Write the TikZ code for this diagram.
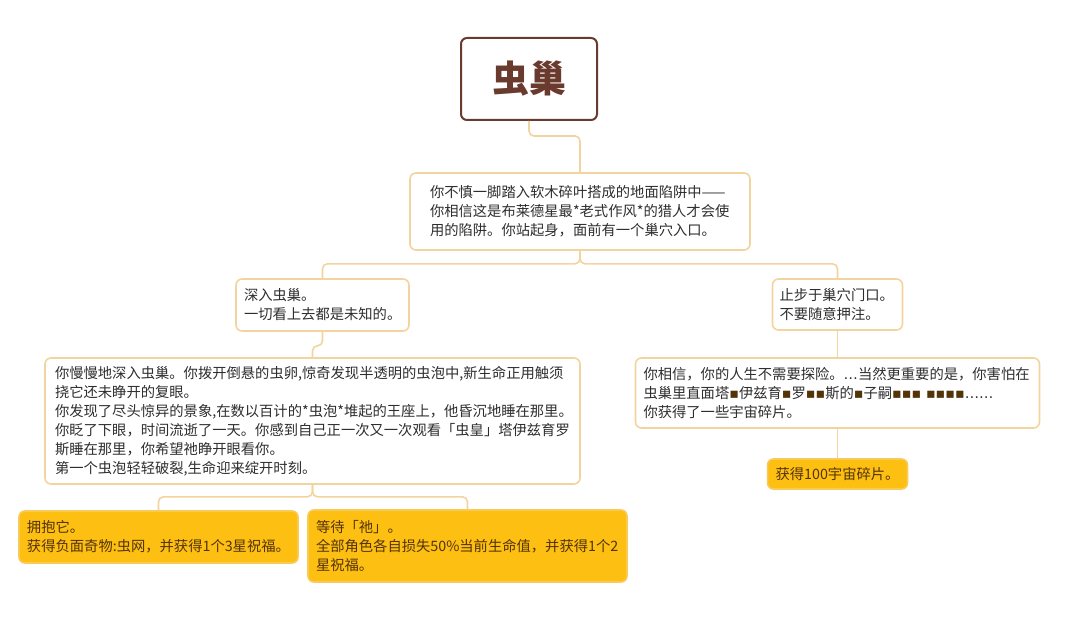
\documentclass[tikz,border=0pt]{standalone}
\usepackage{fontspec}
\setmainfont{Noto Sans CJK SC}
\newfontfamily\symfont{DejaVu Sans}
\definecolor{nestline}{HTML}{F3D49E}
\definecolor{nestink}{HTML}{2E2E2E}
\definecolor{nestbrown}{HTML}{533408}
\definecolor{nestgold}{HTML}{FDBF12}
\definecolor{nestgoldline}{HTML}{F8CB57}
\definecolor{nesttitle}{HTML}{6B3A2E}
\newcommand{\blots}[1]{{\symfont\color{nestbrown}#1}}
\begin{document}
\begin{tikzpicture}[x=1pt, y=-1pt,
		link/.style={draw=nestline, line width=1.6pt, rounded corners=5pt},
		topic/.style={draw=nesttitle, line width=2pt, rounded corners=6pt, fill=white,
			text=nesttitle, font=\fontsize{37}{42}\selectfont\bfseries,
			minimum width=136pt, minimum height=82pt},
		story/.style={draw=nestline, line width=1.6pt, rounded corners=6pt, fill=white,
			text=nestink, font=\fontsize{14.3}{19}\selectfont, align=left,
			inner xsep=8pt, inner ysep=0pt},
		reward/.style={story, draw=nestgoldline, fill=nestgold, text=nestbrown}]
		\useasboundingbox (0,0) rectangle (1075,620);

		\node[topic] (nest) at (529,79) {虫巢};

		\node[story, text width=300pt, inner xsep=20pt, minimum height=77pt] (intro) at (580,211.5)
		{你不慎一脚踏入软木碎叶搭成的地面陷阱中——\\
		你相信这是布莱德星最*老式作风*的猎人才会使\\
		用的陷阱。你站起身，面前有一个巢穴入口。};

		\node[story, text width=157pt, minimum height=52pt] (deep) at (322.5,305)
		{深入虫巢。\\一切看上去都是未知的。};

		\node[story, text width=116pt, inner xsep=7pt, minimum height=51pt] (stop) at (837.5,304.5)
		{止步于巢穴门口。\\不要随意押注。};

		\node[story, text width=515pt, inner xsep=10pt, minimum height=126pt] (inside) at (312.5,421)
		{你慢慢地深入虫巢。你拨开倒悬的虫卵,惊奇发现半透明的虫泡中,新生命正用触须\\
		挠它还未睁开的复眼。\\
		你发现了尽头惊异的景象,在数以百计的*虫泡*堆起的王座上，他昏沉地睡在那里。\\
		你眨了下眼，时间流逝了一天。你感到自己正一次又一次观看「虫皇」塔伊兹育罗\\
		斯睡在那里，你希望祂睁开眼看你。\\
		第一个虫泡轻轻破裂,生命迎来绽开时刻。};

		\node[story, text width=388pt, minimum height=70pt] (fear) at (837.5,393)
		{你相信，你的人生不需要探险。{\symfont …}当然更重要的是，你害怕在\\
		虫巢里直面塔\blots{▪}伊兹育\blots{▪}罗\blots{▪▪}斯的\blots{▪}子嗣\blots{▪▪▪ ▪▪▪▪}{\symfont ……}\\
		你获得了一些宇宙碎片。};

		\node[reward, text width=263pt, minimum height=52pt] (embrace) at (158.5,537)
		{拥抱它。\\获得负面奇物:虫网，并获得1个3星祝福。};

		\node[reward, text width=303pt, minimum height=72pt] (wait) at (467.5,546)
		{等待「祂」。\\全部角色各自损失50\%当前生命值，并获得1个2\\星祝福。};

		\node[reward, align=center, minimum width=139pt, minimum height=30pt] (shards) at (837.5,474)
		{获得100宇宙碎片。};

		\draw[link] (nest.south) -- ++(0,15) -| (intro.north);
		\draw[link] (intro.south) -- ++(0,13) -| (deep.north);
		\draw[link] (intro.south) -- ++(0,13) -| (stop.north);
		\draw[link] (deep.south) -- ++(0,14) -| (inside.north);
		\draw[link] (stop.south) -- (fear.north);
		\draw[link] (inside.south) -- ++(0,12) -| (embrace.north);
		\draw[link] (inside.south) -- ++(0,12) -| (wait.north);
		\draw[link] (fear.south) -- (shards.north);
	\end{tikzpicture}
\end{document}
